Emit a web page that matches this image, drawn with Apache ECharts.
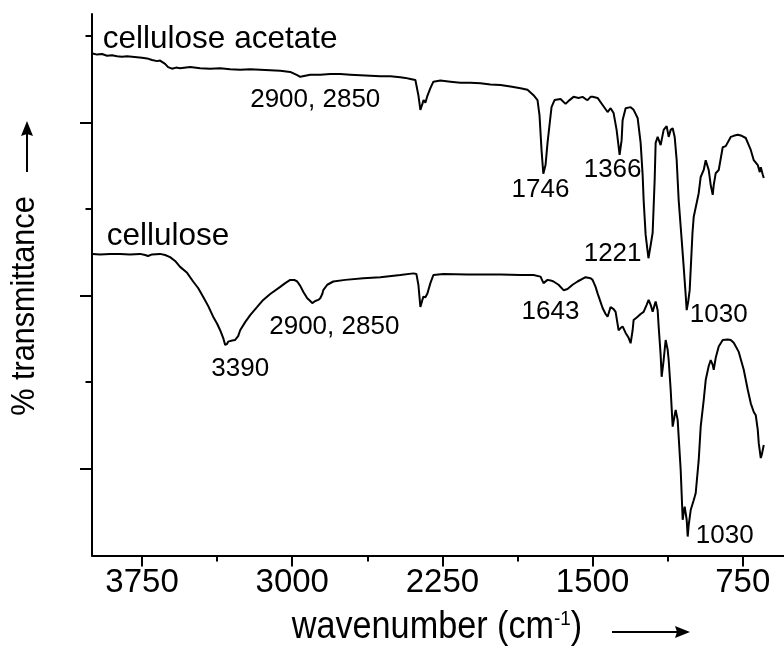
<!DOCTYPE html>
<html>
<head>
<meta charset="utf-8">
<style>html,body{margin:0;padding:0;background:#fff}#c{width:784px;height:660px}</style>
<script src="https://cdn.jsdelivr.net/npm/echarts@6/dist/echarts.min.js"></script>
</head>
<body>
<div id="c"></div>
<script>
// wavenumber (cm-1) / transmittance (arbitrary units)
const acetateWave = [3997,3975,3950,3925,3900,3875,3850,3825,3800,3775,3750,3725,3700,3675,3660,3635,3620,3600,3580,3560,3510,3460,3410,3360,3310,3260,3210,3160,3110,3060,3010,2975,2960,2935,2910,2860,2810,2760,2710,2660,2610,2560,2510,2460,2435,2410,2385,2370,2360,2350,2344,2335,2325,2310,2295,2260,2210,2160,2110,2060,2010,1960,1910,1860,1825,1795,1775,1765,1755,1746,1735,1725,1715,1705,1690,1660,1635,1615,1595,1570,1550,1535,1525,1510,1500,1475,1450,1425,1410,1395,1380,1365,1355,1350,1335,1310,1295,1275,1260,1250,1245,1235,1221,1210,1200,1190,1185,1175,1160,1145,1130,1120,1110,1100,1090,1080,1070,1055,1045,1035,1030,1022,1015,1001,995,970,960,945,935,920,910,900,895,885,870,850,835,810,795,775,755,735,720,710,695,675,665,660,650,645];
const acetateT = [92.7,92.5,92.6,92.3,92.4,92.2,92.1,92.2,92.1,92.0,91.9,91.8,91.5,91.3,91.4,90.8,90.2,89.9,90.1,90.0,90.2,90.0,89.9,90.0,89.8,89.7,89.8,89.7,89.6,89.5,89.3,88.7,88.4,88.6,88.8,88.8,88.9,88.9,88.8,88.7,88.6,88.5,88.5,88.3,88.2,88.0,87.8,85.0,82.3,83.4,84.1,83.6,84.9,86.3,87.5,87.7,87.5,87.3,87.3,87.2,87.0,86.9,86.6,86.3,86.0,85.0,84.1,81.3,74.9,70.5,72.1,76.2,79.5,82.8,84.1,84.3,83.4,84.1,84.7,84.5,84.7,84.3,84.1,84.7,84.7,84.5,83.2,81.9,82.6,81.7,78.6,74.0,76.7,80.4,82.6,82.8,82.3,80.8,76.2,70.3,65.6,59.2,54.9,57.3,59.6,69.3,76.2,77.3,75.8,78.6,79.3,77.3,78.6,78.9,77.3,73.0,65.6,58.3,53.3,48.1,45.3,47.0,49.0,59.6,62.5,66.9,69.9,71.2,73.0,71.2,68.4,66.6,68.4,70.6,71.2,75.4,75.6,77.3,77.5,77.7,77.5,77.1,75.8,74.9,73.0,72.1,70.8,71.7,70.3,69.7];

const celluloseWave = [3997,3960,3910,3860,3810,3760,3735,3720,3700,3660,3635,3610,3585,3560,3525,3495,3470,3445,3420,3395,3375,3360,3345,3335,3325,3320,3300,3285,3270,3260,3235,3210,3175,3145,3110,3060,3035,3010,2990,2975,2960,2945,2925,2910,2900,2885,2870,2860,2850,2845,2825,2795,2735,2645,2560,2460,2395,2380,2370,2360,2350,2345,2335,2325,2310,2295,2245,2125,1960,1860,1795,1760,1745,1725,1710,1695,1670,1645,1625,1600,1575,1535,1510,1500,1485,1475,1460,1450,1435,1425,1410,1395,1385,1370,1360,1350,1335,1320,1310,1300,1295,1275,1260,1245,1230,1220,1210,1200,1190,1185,1175,1170,1160,1155,1145,1135,1125,1120,1110,1100,1090,1085,1075,1070,1060,1050,1045,1040,1030,1025,1020,1010,995,985,970,960,945,935,920,910,900,895,885,870,850,825,810,795,770,745,725,710,695,685,675,670,660,655,645];
const celluloseT = [55.7,55.6,55.7,55.7,55.6,55.7,55.5,55.3,55.6,55.7,55.5,55.1,54.4,53.3,52.2,50.6,49.4,47.8,46.1,44.1,42.8,41.6,40.2,38.9,39.1,39.5,39.7,39.8,40.5,41.6,43.1,44.4,45.9,47.2,48.3,49.6,50.3,50.9,50.9,50.6,49.8,48.7,47.5,47.0,46.6,47.0,47.2,47.5,48.3,49.0,50.0,50.6,50.9,51.2,51.4,51.8,52.1,52.0,50.0,45.9,47.2,47.8,47.7,48.4,50.3,51.8,52.0,51.9,51.9,51.8,51.8,51.5,50.3,50.9,50.8,50.6,50.0,49.0,49.2,50.0,50.6,51.4,51.2,50.9,49.6,48.4,46.8,45.7,44.6,44.1,45.9,45.5,45.0,41.6,42.0,42.3,41.1,40.2,39.2,41.6,43.5,44.1,44.6,45.0,46.3,47.2,46.3,45.0,46.3,46.9,45.3,42.3,37.0,33.0,36.1,39.8,38.0,36.1,30.6,23.8,25.9,26.9,25.0,21.9,15.8,6.6,8.0,9.0,6.6,3.5,5.6,8.4,10.2,11.5,17.6,23.8,28.7,32.4,35.0,36.1,35.2,34.3,36.5,38.6,39.8,39.9,39.8,39.3,37.6,34.3,30.6,28.1,26.5,25.9,23.2,20.7,18.0,18.6,20.4];

const xTickLabels = [3750, 3000, 2250, 1500, 750];
const xMinorTicks = [3375, 2625, 1875, 1125];
const yMajorTicks = [16, 48, 80];
const yMinorTicks = [32, 64, 96];

const seriesNames = ['cellulose acetate', 'cellulose'];
const seriesNamePos = [[3360, 95.4], [3620, 59.0]];
const peakLabels = ['2900, 2850', '1746', '1366', '1221', '1030', '3390', '2900, 2850', '1643', '1030'];
const peakLabelPos = [[2885, 84.1], [1760, 67.5], [1400, 71.2], [1400, 55.7], [870, 44.4], [3260, 34.4], [2790, 42.2], [1710, 45.0], [840, 3.6]];

const FONT = "'Liberation Sans', Arial, Helvetica, sans-serif";
const zip = (a, b) => a.map((v, i) => [v, b[i]]);

const chart = echarts.init(document.getElementById('c'), null, {renderer: 'canvas'});
const xCommon = {type: 'value', inverse: true, min: 544, max: 4000, splitLine: {show: false}};
const yCommon = {type: 'value', min: 0, max: 100, splitLine: {show: false}, axisLabel: {show: false}};
const labelStyle = (size) => ({show: true, position: 'inside', formatter: '{b}', color: '#000', opacity: 1,
  textBorderWidth: 0, textShadowBlur: 0, fontFamily: FONT, fontSize: size});

chart.setOption({
  animation: false,
  backgroundColor: '#fff',
  grid: {left: 92, right: 0, top: 14, bottom: 104.5, containLabel: false},
  xAxis: [
    Object.assign({}, xCommon, {
      position: 'bottom',
      axisLine: {show: true, lineStyle: {color: '#000', width: 2}},
      axisTick: {show: true, customValues: xTickLabels, length: 11, lineStyle: {color: '#000', width: 2}},
      axisLabel: {show: true, customValues: xTickLabels, formatter: (v) => String(v), color: '#000', fontFamily: FONT, fontSize: 33, margin: 11}
    }),
    Object.assign({}, xCommon, {
      position: 'bottom',
      axisLine: {show: false},
      axisTick: {show: true, customValues: xMinorTicks, length: 6, lineStyle: {color: '#000', width: 2}},
      axisLabel: {show: false}
    })
  ],
  yAxis: [
    Object.assign({}, yCommon, {
      position: 'left',
      axisLine: {show: true, lineStyle: {color: '#000', width: 2}},
      axisTick: {show: true, customValues: yMajorTicks, length: 12, lineStyle: {color: '#000', width: 2}}
    }),
    Object.assign({}, yCommon, {
      position: 'left',
      axisLine: {show: false},
      axisTick: {show: true, customValues: yMinorTicks, length: 6.5, lineStyle: {color: '#000', width: 2}}
    })
  ],
  series: [
    {type: 'line', name: seriesNames[0], data: zip(acetateWave, acetateT), showSymbol: false, symbol: 'none',
     lineStyle: {color: '#000', width: 2}, xAxisIndex: 0, yAxisIndex: 0},
    {type: 'line', name: seriesNames[1], data: zip(celluloseWave, celluloseT), showSymbol: false, symbol: 'none',
     lineStyle: {color: '#000', width: 2}, xAxisIndex: 0, yAxisIndex: 0},
    {type: 'scatter', symbolSize: 1, itemStyle: {color: 'rgba(255,255,255,0)'}, silent: true,
     data: seriesNames.map((n, i) => ({name: n, value: seriesNamePos[i]})),
     label: labelStyle(31.5)},
    {type: 'scatter', symbolSize: 1, itemStyle: {color: 'rgba(255,255,255,0)'}, silent: true,
     data: peakLabels.map((n, i) => ({name: n, value: peakLabelPos[i]})),
     label: labelStyle(26)}
  ],
  graphic: [
    {type: 'text', x: 437, y: 628, scaleX: 0.9, style: {
      text: '{t|wavenumber (cm}{s|-1}{t|)}', align: 'center', verticalAlign: 'middle',
      rich: {t: {fontSize: 38, fontFamily: FONT, fill: '#000'}, s: {fontSize: 21, fontFamily: FONT, fill: '#000', verticalAlign: 'top', padding: [0, 0, 17, 0]}}
    }},
    {type: 'line', shape: {x1: 612, y1: 632, x2: 682, y2: 632}, style: {stroke: '#000', lineWidth: 2}},
    {type: 'polygon', shape: {points: [[690, 632], [675, 626], [677, 632], [675, 638]]}, style: {fill: '#000'}},
    {type: 'text', x: 25, y: 306, rotation: Math.PI / 2, scaleX: 0.9, style: {
      text: '% transmittance', align: 'center', verticalAlign: 'middle', fontSize: 34, fontFamily: FONT, fill: '#000'
    }},
    {type: 'line', shape: {x1: 27, y1: 172, x2: 27, y2: 128}, style: {stroke: '#000', lineWidth: 2}},
    {type: 'polygon', shape: {points: [[27, 121], [21, 136], [27, 134], [33, 136]]}, style: {fill: '#000'}}
  ]
});
</script>
</body>
</html>
